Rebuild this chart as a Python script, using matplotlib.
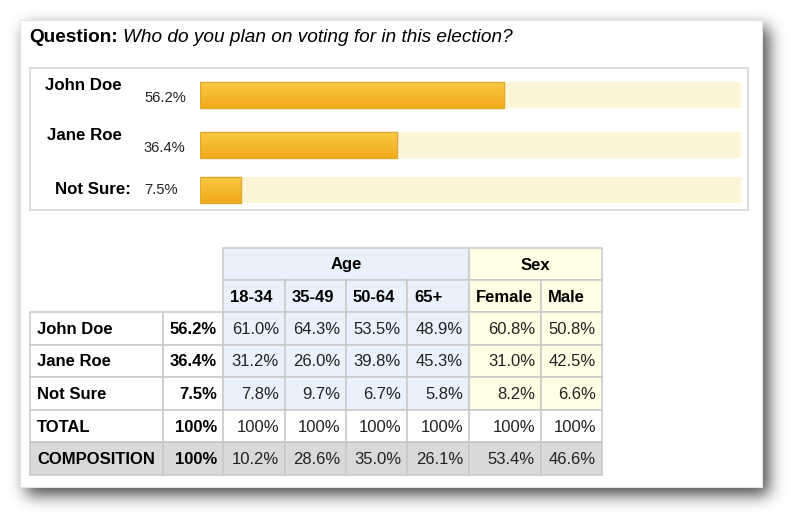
import numpy as np
import matplotlib.pyplot as plt
from matplotlib.patches import Rectangle

plt.rcParams['font.family'] = ['Liberation Sans', 'DejaVu Sans']

# poll data
question = "Who do you plan on voting for in this election?"
candidates = ["John Doe", "Jane Roe", "Not Sure"]
overall = [56.2, 36.4, 7.5]

age_groups = ["18-34", "35-49", "50-64", "65+"]
age_vals = [[61.0, 64.3, 53.5, 48.9],
            [31.2, 26.0, 39.8, 45.3],
            [7.8, 9.7, 6.7, 5.8]]
sex_groups = ["Female", "Male"]
sex_vals = [[60.8, 50.8],
            [31.0, 42.5],
            [8.2, 6.6]]
comp_overall = 100
comp_age = [10.2, 28.6, 35.0, 26.1]
comp_sex = [53.4, 46.6]

W, H = 800, 525
fig = plt.figure(figsize=(8, 5.25), dpi=100)
ax = fig.add_axes([0, 0, 1, 1])
ax.set_xlim(0, W)
ax.set_ylim(H, 0)
ax.axis("off")

# card with soft drop shadow
cx0, cy0, cx1, cy1 = 20, 20, 762, 487
mask = np.zeros((H, W))
mask[cy0 + 7:cy1 + 8, cx0 + 6:cx1 + 7] = 1
sig = 8
k = np.exp(-0.5 * (np.arange(-3 * sig, 3 * sig + 1) / sig) ** 2)
k /= k.sum()
mask = np.apply_along_axis(lambda r: np.convolve(r, k, mode="same"), 1, mask)
mask = np.apply_along_axis(lambda c: np.convolve(c, k, mode="same"), 0, mask)
shadow = np.zeros((H, W, 4))
shadow[..., 3] = mask * 0.72
ax.imshow(shadow, extent=(0, W, H, 0), aspect="auto", zorder=0)
ax.add_patch(Rectangle((cx0, cy0), cx1 - cx0, cy1 - cy0, facecolor="white",
                       edgecolor="#e4e4e4", lw=0.8, zorder=1))
ax.set_xlim(0, W)
ax.set_ylim(H, 0)

# title
ax.text(29, 37, "Question:", fontsize=13.7, fontweight="bold", va="center", zorder=3)
ax.text(123, 37, question, fontsize=13.7, fontstyle="italic", va="center", zorder=3)

# bar panel
ax.add_patch(Rectangle((30, 68), 718, 142, facecolor="white", edgecolor="#d4d4d4",
                       lw=1.1, zorder=2))
bar_y = [95, 145, 189.5]
name_pos = [(122, 86, "right"), (122, 136, "right"), (131, 190, "right")]
names = ["John Doe", "Jane Roe", "Not Sure:"]
pct_y = [98, 148, 190]
for i in range(3):
    x, y, ha = name_pos[i]
    ax.text(x, y, names[i], fontsize=12.2, fontweight="bold", ha=ha, va="center", zorder=3)
    ax.text(144, pct_y[i], f"{overall[i]}%", fontsize=10.6, color="#222222",
            va="center", zorder=3)

bax = fig.add_axes([200 / W, 0, 541 / W, 1])
bax.set_xlim(0, 100)
bax.set_ylim(H, 0)
bax.axis("off")
bax.patch.set_alpha(0)
bax.barh(bar_y, [100] * 3, height=26, color="#fef4d6", zorder=1)
bars = bax.barh(bar_y, overall, height=26, color="#f5b526", edgecolor="#d9ab35",
                lw=0.9, zorder=2)
grad = np.linspace(0, 1, 50)[:, None]
top = np.array([0.98, 0.79, 0.27])
bot = np.array([0.95, 0.67, 0.10])
gimg = top[None, None, :] * (1 - grad[..., None]) + bot[None, None, :] * grad[..., None]
for b in bars:
    im = bax.imshow(gimg, extent=(b.get_x(), b.get_x() + b.get_width(),
                                  b.get_y() + b.get_height(), b.get_y()),
                    aspect="auto", zorder=2.5)
    im.set_clip_path(b)
    b2 = Rectangle((b.get_x(), b.get_y()), b.get_width(), b.get_height(),
                   fill=False, edgecolor="#d9ab35", lw=0.9, zorder=3)
    bax.add_patch(b2)
bax.set_xlim(0, 100)
bax.set_ylim(H, 0)

# crosstab table
col_x = [30, 163, 223, 285, 346, 407, 469, 541, 602]
row_y = [248, 280, 312, 345, 377, 410, 442, 475]
blue, yellow, grey = "#e9f1fd", "#ffffe6", "#d9d9d9"
line = "#c9c9c9"
fs = 12


def cell(c0, c1, r0, r1, color, txt="", ha="right", bold=False, tcol="#222222"):
    x0, x1 = col_x[c0], col_x[c1]
    y0, y1 = row_y[r0], row_y[r1]
    ax.add_patch(Rectangle((x0, y0), x1 - x0, y1 - y0, facecolor=color,
                           edgecolor=line, lw=1.1, zorder=2))
    if ha == "right":
        tx = x1 - 6
    elif ha == "left":
        tx = x0 + 7
    else:
        tx = (x0 + x1) / 2
    ax.text(tx, (y0 + y1) / 2 + 1, txt, fontsize=fs, ha=ha, va="center",
            fontweight="bold" if bold else "normal", color=tcol, zorder=3)


cell(2, 6, 0, 1, blue, "Age", ha="center", bold=True, tcol="black")
cell(6, 8, 0, 1, yellow, "Sex", ha="center", bold=True, tcol="black")
for j, g in enumerate(age_groups):
    cell(2 + j, 3 + j, 1, 2, blue, g, ha="left", bold=True, tcol="black")
for j, g in enumerate(sex_groups):
    cell(6 + j, 7 + j, 1, 2, yellow, g, ha="left", bold=True, tcol="black")

for i, name in enumerate(candidates):
    r = 2 + i
    cell(0, 1, r, r + 1, "white", name, ha="left", bold=True, tcol="black")
    cell(1, 2, r, r + 1, "white", f"{overall[i]}%", bold=True, tcol="black")
    for j, v in enumerate(age_vals[i]):
        cell(2 + j, 3 + j, r, r + 1, blue, f"{v:.1f}%")
    for j, v in enumerate(sex_vals[i]):
        cell(6 + j, 7 + j, r, r + 1, yellow, f"{v:.1f}%")

cell(0, 1, 5, 6, "white", "TOTAL", ha="left", bold=True, tcol="black")
cell(1, 2, 5, 6, "white", "100%", bold=True, tcol="black")
for j in range(len(age_groups) + len(sex_groups)):
    cell(2 + j, 3 + j, 5, 6, "white", "100%")

cell(0, 1, 6, 7, grey, "COMPOSITION", ha="left", bold=True, tcol="black")
cell(1, 2, 6, 7, grey, f"{comp_overall}%", bold=True, tcol="black")
for j, v in enumerate(comp_age + comp_sex):
    cell(2 + j, 3 + j, 6, 7, grey, f"{v:.1f}%")

fig.savefig("out.png", dpi=100, facecolor="white")
